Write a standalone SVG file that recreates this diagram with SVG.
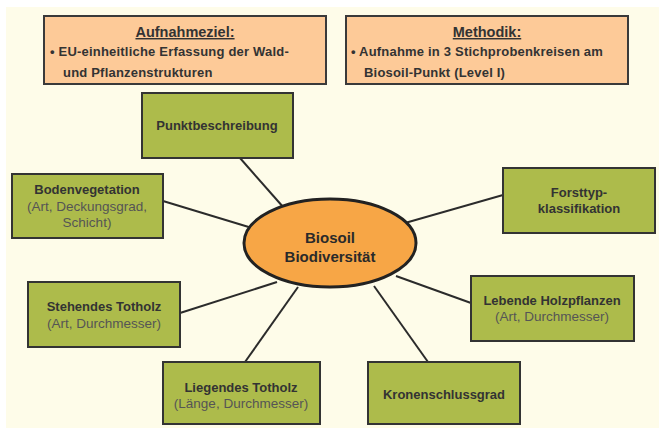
<svg xmlns="http://www.w3.org/2000/svg" width="659" height="428" viewBox="0 0 659 428">
<style>
.info{fill:#fdca98;stroke:#3a3a3a;stroke-width:2}
.box{fill:#adbb4b;stroke:#333;stroke-width:2}
.hub{fill:#f7a646;stroke:#222;stroke-width:3}
.conn line{stroke:#2b2b2b;stroke-width:2}
text{font-family:"Liberation Sans",Arial,sans-serif;fill:#333}
.t{font-size:13px;font-weight:bold;text-anchor:middle}
.s{font-size:13.5px;text-anchor:middle;fill:#555}
.h{font-size:14.5px;font-weight:bold;text-anchor:middle;text-decoration:underline}
.b{font-size:13px;font-weight:bold;letter-spacing:0.2px}
.hubt{font-size:15px;font-weight:bold;text-anchor:middle;fill:#2a2a2a}
</style>
<rect x="6" y="7" width="653" height="421" fill="#fefce9"/>
<g id="aufnahmeziel">
<rect class="info" x="44" y="16" width="282" height="68"/>
<text class="h" x="185" y="37">Aufnahmeziel:</text>
<text class="b" x="50" y="56">• EU-einheitliche Erfassung der Wald-</text>
<text class="b" x="63" y="77">und Pflanzenstrukturen</text>
</g>
<g id="methodik">
<rect class="info" x="346" y="16" width="282" height="68"/>
<text class="h" x="487" y="37">Methodik:</text>
<text class="b" x="351" y="56">• Aufnahme in 3 Stichprobenkreisen am</text>
<text class="b" x="364" y="77">Biosoil-Punkt (Level I)</text>
</g>
<g id="connectors" class="conn">
<line x1="240" y1="158" x2="284" y2="208"/>
<line x1="163" y1="201" x2="252" y2="228"/>
<line x1="503" y1="195" x2="405" y2="223"/>
<line x1="180" y1="313" x2="277" y2="282"/>
<line x1="245" y1="362" x2="298" y2="287"/>
<line x1="471" y1="303" x2="396" y2="276"/>
<line x1="428" y1="362" x2="374" y2="286"/>
</g>
<g id="punktbeschreibung">
<rect class="box" x="142" y="93" width="151" height="65"/>
<text class="t" x="217" y="130">Punktbeschreibung</text>
</g>
<g id="bodenvegetation">
<rect class="box" x="12" y="174" width="151" height="64"/>
<text class="t" x="87" y="194">Bodenvegetation</text>
<text class="s" x="87" y="211">(Art, Deckungsgrad,</text>
<text class="s" x="87" y="227">Schicht)</text>
</g>
<g id="forsttyp">
<rect class="box" x="503" y="168" width="152" height="65"/>
<text class="t" x="579" y="197">Forsttyp-</text>
<text class="t" x="579" y="213">klassifikation</text>
</g>
<g id="stehendes">
<rect class="box" x="28" y="282" width="152" height="65"/>
<text class="t" x="104" y="311">Stehendes Totholz</text>
<text class="s" x="104" y="328">(Art, Durchmesser)</text>
</g>
<g id="liegendes">
<rect class="box" x="163" y="362" width="157" height="62"/>
<text class="t" x="241" y="392">Liegendes Totholz</text>
<text class="s" x="241" y="408">(Länge, Durchmesser)</text>
</g>
<g id="lebende">
<rect class="box" x="471" y="276" width="163" height="65"/>
<text class="t" x="552" y="305">Lebende Holzpflanzen</text>
<text class="s" x="552" y="321">(Art, Durchmesser)</text>
</g>
<g id="kronenschluss">
<rect class="box" x="368" y="362" width="152" height="62"/>
<text class="t" x="444" y="399">Kronenschlussgrad</text>
</g>
<g id="biosoil">
<ellipse class="hub" cx="330" cy="243" rx="86" ry="44"/>
<text class="hubt" x="330" y="243">Biosoil</text>
<text class="hubt" x="330" y="262">Biodiversität</text>
</g>
</svg>
